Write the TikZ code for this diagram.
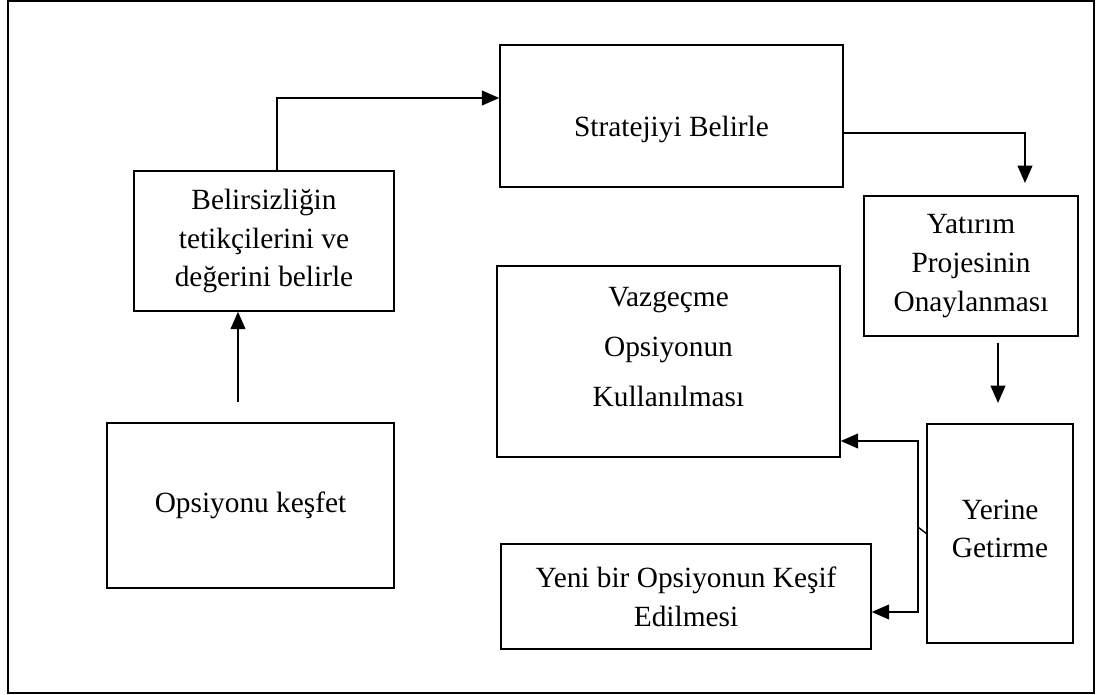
\documentclass[tikz,border=0pt]{standalone}
\usepackage{fontspec}
\setmainfont{Liberation Serif}
\usepackage{tikz}
\usetikzlibrary{arrows.meta}

\tikzset{
  kutu/.style={draw, line width=1.1pt, rectangle, inner sep=2pt, align=center,
    font=\fontsize{22}{29}\selectfont},
  okcizgi/.style={line width=1.4pt, -{Triangle[length=13pt,width=11pt]}}
}

\begin{document}
\begin{tikzpicture}[x=0.75pt, y=-0.75pt]
\useasboundingbox (0,0) rectangle (1096,695);
\draw[line width=1pt] (8,1) rectangle (1094,693);
% kutular
\node[kutu, minimum width=215.25pt, minimum height=123.75pt] (kesfet) at (250.5,505.5) {Opsiyonu keşfet};
\node[kutu, minimum width=195pt, minimum height=105pt] (belirsiz) at (264,241) {Belirsizliğin\\tetikçilerini ve\\değerini belirle};
\node[kutu, minimum width=257.25pt, minimum height=106.5pt, text height=35pt] (strateji) at (671.5,116) {Stratejiyi Belirle};
\node[kutu, minimum width=160.5pt, minimum height=105pt] (yatirim) at (971,266) {Yatırım\\Projesinin\\Onaylanması};
\node[kutu, minimum width=257.25pt, minimum height=143.25pt, font=\fontsize{22}{37.5}\selectfont] (vazgec) at (668.5,361.5) {Vazgeçme\\Opsiyonun\\Kullanılması\\[-15pt]\mbox{}};
\node[kutu, minimum width=109.5pt, minimum height=164.25pt] (yerine) at (1000,533.5) {Yerine\\Getirme\\[-22pt]\mbox{}};
\node[kutu, minimum width=277.5pt, minimum height=78.75pt] (yeni) at (686,596.5) {Yeni bir Opsiyonun Keşif\\Edilmesi};
% oklar
\coordinate (k1) at (238,402);
\draw[okcizgi] (k1) -- (k1 |- belirsiz.south);
\coordinate (b1) at (277,98);
\draw[okcizgi] (belirsiz.north -| b1) -- (b1) -- (b1 -| strateji.west);
\coordinate (s1) at (1025,133);
\coordinate (s2) at (1025,183);
\draw[okcizgi] (s1 -| strateji.east) -- (s1) -- (s2);
\coordinate (y1) at (998,343);
\coordinate (y2) at (998,403);
\draw[okcizgi] (y1) -- (y2);
\coordinate (g) at (918,527);
\coordinate (v1) at (918,441);
\coordinate (v2) at (918,612);
\draw[line width=1pt] (yerine.west) -- (g);
\draw[okcizgi] (g) -- (v1) -- (v1 -| vazgec.east);
\draw[okcizgi] (g) -- (v2) -- (v2 -| yeni.east);
\end{tikzpicture}
\end{document}
